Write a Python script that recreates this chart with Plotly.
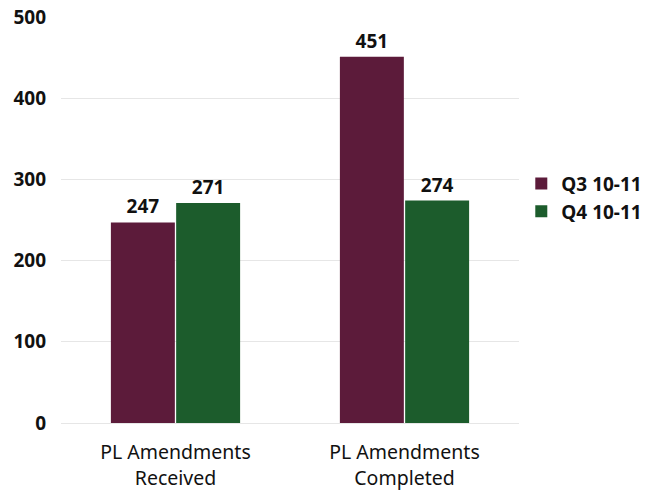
import plotly.graph_objects as go

categories = ["PL Amendments<br>Received", "PL Amendments<br>Completed"]
series_names = ["Q3 10-11", "Q4 10-11"]
q3_values = [247, 451]
q4_values = [271, 274]
colors = ["#5c1b3a", "#1c5c2c"]

FONT = "Noto Sans"

fig = go.Figure()
for name, vals, col in zip(series_names, [q3_values, q4_values], colors):
    fig.add_trace(go.Bar(
        x=categories, y=vals, name=name,
        marker=dict(color=col, line=dict(width=0)),
        text=[str(v) for v in vals], textposition="outside",
        textfont=dict(family=FONT, size=19, color="#111111", weight="bold"),
        cliponaxis=False,
    ))

fig.update_layout(
    width=657, height=497,
    margin=dict(l=61, r=138, t=17, b=74, autoexpand=False),
    paper_bgcolor="white", plot_bgcolor="white",
    barmode="group", bargap=0.43, bargroupgap=0.02,
    font=dict(family=FONT, size=19, color="#111111"),
    showlegend=True,
    legend=dict(x=1.005, xanchor="left", y=0.555, yanchor="middle",
                font=dict(family=FONT, size=19, color="#111111", weight="bold"),
                tracegroupgap=2),
    yaxis=dict(range=[0, 500], dtick=100, showgrid=True, gridcolor="#e6e6e6",
               gridwidth=1, zeroline=False, showline=False, automargin=False,
               tickfont=dict(family=FONT, size=19, color="#111111", weight="bold"),
               ticks="", ticklabelstandoff=14, ticklabeloverflow="allow"),
    xaxis=dict(showline=True, linecolor="#e6e6e6", ticks="", automargin=False,
               ticklabelstandoff=12,
               tickfont=dict(family=FONT, size=19.5, color="#111111")),
)
fig.write_html("out.html", config={"displayModeBar": False},
               post_script="document.body.style.margin='0px';")
